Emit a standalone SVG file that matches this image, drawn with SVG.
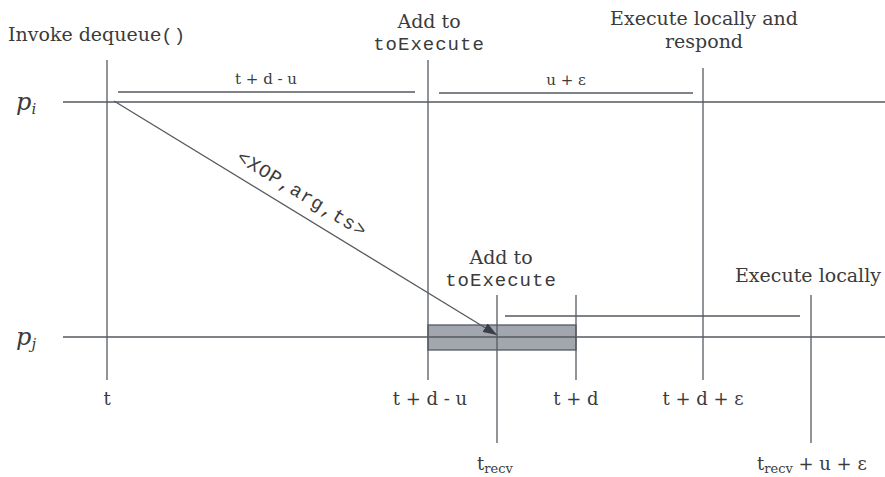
<svg xmlns="http://www.w3.org/2000/svg" width="885" height="477" viewBox="0 0 885 477">
<style>
.ln{stroke:#555a61;stroke-width:1.3;fill:none}
.t{font-family:"DejaVu Serif","Liberation Serif",serif;fill:#3b3b3b;font-size:19px}
.b{font-family:"DejaVu Serif","Liberation Serif",serif;fill:#3b3b3b;font-size:18px}
.m{font-family:"Liberation Mono","DejaVu Sans Mono",monospace;fill:#3b3b3b;font-size:19px;letter-spacing:1px}
.s{font-family:"DejaVu Serif","Liberation Serif",serif;fill:#3b3b3b;font-size:15px}
.p{font-family:"DejaVu Serif","Liberation Serif",serif;font-style:italic;fill:#3b3b3b;font-size:24px}
</style>
<defs>
<marker id="ah" viewBox="0 0 14 10" refX="14" refY="5" markerWidth="14" markerHeight="10" orient="auto" markerUnits="userSpaceOnUse">
<path d="M0,0 L14,5 L0,10 z" fill="#3a3f47"/>
</marker>
</defs>
<rect width="885" height="477" fill="#fff"/>
<g id="box">
<rect x="428" y="325" width="148" height="25" fill="#a2a6ae" stroke="#555a61" stroke-width="1.3"/>
</g>
<g id="connectors">
<line class="ln" x1="63" y1="102" x2="885" y2="102"/>
<line class="ln" x1="63" y1="337" x2="885" y2="337"/>
<line class="ln" x1="107" y1="60" x2="107" y2="380"/>
<line class="ln" x1="428" y1="60" x2="428" y2="380"/>
<line class="ln" x1="703" y1="68" x2="703" y2="380"/>
<line class="ln" x1="497" y1="295" x2="497" y2="443"/>
<line class="ln" x1="576" y1="295" x2="576" y2="380"/>
<line class="ln" x1="811" y1="295" x2="811" y2="443"/>
<line class="ln" x1="118" y1="92" x2="415" y2="92"/>
<line class="ln" x1="439" y1="93" x2="693" y2="93"/>
<line class="ln" x1="505" y1="316" x2="800" y2="316"/>
<line class="ln" x1="114" y1="101" x2="497" y2="335" marker-end="url(#ah)" stroke="#3a3f47"/>
</g>
<g id="labels">
<text class="t" x="8" y="41">Invoke dequeue<tspan class="m">()</tspan></text>
<text class="t" x="429" y="28" text-anchor="middle">Add to</text>
<text class="m" x="429" y="50" text-anchor="middle">toExecute</text>
<text class="t" x="704" y="25" text-anchor="middle">Execute locally and</text>
<text class="t" x="704" y="48" text-anchor="middle">respond</text>
<text class="t" x="501" y="264" text-anchor="middle">Add to</text>
<text class="m" x="501" y="286" text-anchor="middle">toExecute</text>
<text class="t" x="735" y="282">Execute locally</text>
<text class="s" x="266" y="84" text-anchor="middle">t + d - u</text>
<text class="s" x="566" y="85" text-anchor="middle">u + ε</text>
<text class="p" x="16" y="110">p<tspan font-size="15" dy="4">i</tspan></text>
<text class="p" x="16" y="345">p<tspan font-size="15" dy="4">j</tspan></text>
<text class="b" x="107" y="405" text-anchor="middle">t</text>
<text class="b" x="430" y="405" text-anchor="middle">t + d - u</text>
<text class="b" x="576" y="405" text-anchor="middle">t + d</text>
<text class="b" x="703" y="405" text-anchor="middle">t + d + ε</text>
<text class="b" x="477" y="470">t<tspan font-size="13" dy="3">recv</tspan></text>
<text class="b" x="757" y="470">t<tspan font-size="13" dy="3">recv</tspan><tspan dy="-3"> + u + ε</tspan></text>
<text class="m" font-size="19" transform="translate(299,199) rotate(31.4)" text-anchor="middle">&lt;XOP,arg,ts&gt;</text>
</g>
</svg>
